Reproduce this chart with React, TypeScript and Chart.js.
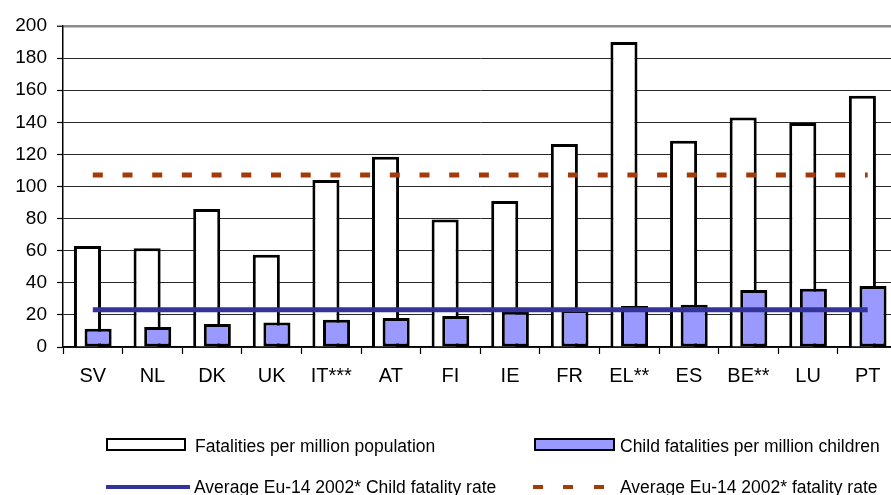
import React, { useEffect, useRef } from "react";
import { Chart, registerables } from "chart.js";

Chart.register(...registerables);

const CATEGORIES = ["SV", "NL", "DK", "UK", "IT***", "AT", "FI", "IE", "FR", "EL**", "ES", "BE**", "LU", "PT"];
const FATALITIES = [63, 61.5, 86, 57.5, 104, 118.5, 79.5, 91, 126.5, 190, 128.5, 143, 139.5, 156.5];
const CHILD_FATALITIES = [11.4, 12.5, 14.3, 15.2, 17, 18, 19.3, 22, 23, 25.5, 26.4, 35.5, 36.3, 38];
const AVG_CHILD_RATE = 23.2;
const AVG_FATALITY_RATE = 107.2;
const Y_TICKS = [0, 20, 40, 60, 80, 100, 120, 140, 160, 180, 200];

const LABEL_FATALITIES = "Fatalities per million population";
const LABEL_CHILD = "Child fatalities per million children";
const LABEL_AVG_CHILD = "Average Eu-14 2002* Child fatality rate";
const LABEL_AVG_ALL = "Average Eu-14 2002* fatality rate";

const FONT = '"Liberation Sans", Arial, Helvetica, sans-serif';
const BLUE = "#333399";
const RED = "#A33A0A";
const LILAC = "#9999FF";

// draw the child bars on top of the population bars
const reorderPlugin = {
  id: "reorderBars",
  beforeDatasetDraw(chart: any, args: any) {
    if (args.index === 1) return false;
  },
  afterDatasetDraw(chart: any, args: any) {
    if (args.index === 0) {
      const meta = chart.getDatasetMeta(1);
      meta.controller.draw();
    }
  },
};

export default function App() {
  const ref = useRef<HTMLCanvasElement>(null);

  useEffect(() => {
    if (!ref.current) return;
    const chart = new Chart(ref.current, {
      type: "bar",
      data: {
        labels: CATEGORIES,
        datasets: [
          {
            label: LABEL_FATALITIES,
            data: FATALITIES,
            backgroundColor: "#ffffff",
            borderColor: "#000000",
            borderWidth: 3,
            borderSkipped: "start",
            categoryPercentage: 0.356,
            barPercentage: 2.55,
            order: 0,
          } as any,
          {
            label: LABEL_CHILD,
            data: CHILD_FATALITIES,
            backgroundColor: LILAC,
            borderColor: "#000000",
            borderWidth: 3,
            borderSkipped: false,
            categoryPercentage: 0.356,
            barPercentage: 2.55,
            order: 0,
          } as any,
          {
            type: "line",
            label: LABEL_AVG_CHILD,
            data: CATEGORIES.map(() => AVG_CHILD_RATE),
            borderColor: BLUE,
            backgroundColor: BLUE,
            borderWidth: 5,
            pointRadius: 0,
            borderCapStyle: "butt",
            order: -1,
          } as any,
          {
            type: "line",
            label: LABEL_AVG_ALL,
            data: CATEGORIES.map(() => AVG_FATALITY_RATE),
            borderColor: RED,
            backgroundColor: RED,
            borderWidth: 5,
            borderDash: [10, 19.7],
            pointRadius: 0,
            borderCapStyle: "butt",
            order: -1,
          } as any,
        ],
      },
      options: {
        animation: false,
        responsive: false,
        layout: { padding: { left: 0, right: 7.5, top: 26, bottom: 0 } },
        plugins: {
          legend: { display: false },
          tooltip: { enabled: false },
        },
        scales: {
          x: {
            offset: true,
            grid: {
              display: true,
              drawOnChartArea: false,
              drawTicks: true,
              tickLength: 7,
              tickColor: "#000",
              tickWidth: 1.2,
              offset: true,
            },
            border: { display: true, color: "#000", width: 1.5 },
            ticks: {
              color: "#000",
              font: { family: FONT, size: 20 },
              padding: 10,
              maxRotation: 0,
              autoSkip: false,
            },
            afterFit: (s: any) => {
              s.height = 148;
            },
          },
          y: {
            min: Y_TICKS[0],
            max: Y_TICKS[Y_TICKS.length - 1],
            afterBuildTicks: (s: any) => {
              s.ticks = Y_TICKS.map((v) => ({ value: v }));
            },
            grid: {
              color: (c: any) => (c.tick && c.tick.value === 200 ? "#8c8c8c" : "#2a2a2a"),
              lineWidth: (c: any) => (c.tick && c.tick.value === 200 ? 2.5 : 1),
              tickLength: 6,
              tickColor: "#000",
              tickWidth: 1.2,
            },
            border: { display: true, color: "#000", width: 1.5 },
            ticks: {
              color: "#000",
              font: { family: FONT, size: 19 },
              padding: 10,
            },
            afterFit: (s: any) => {
              s.width = 63;
            },
          },
        },
      },
      plugins: [reorderPlugin],
    } as any);
    return () => chart.destroy();
  }, []);

  const text = (left: number, top: number, label: string) => (
    <div
      style={{
        position: "absolute",
        left,
        top,
        fontSize: 17.5,
        lineHeight: "20px",
        whiteSpace: "nowrap",
        color: "#000",
      }}
    >
      {label}
    </div>
  );

  return (
    <div
      style={{
        position: "absolute",
        left: 0,
        top: 0,
        width: 891,
        height: 495,
        overflow: "hidden",
        background: "#fff",
        fontFamily: FONT,
      }}
    >
      <canvas ref={ref} width={905} height={495} style={{ position: "absolute", left: 0, top: 0, width: 905, height: 495 }} />
      {/* legend row 1 */}
      <div
        style={{
          position: "absolute",
          left: 106,
          top: 438,
          width: 80,
          height: 13,
          boxSizing: "border-box",
          border: "2.5px solid #000",
          background: "#fff",
        }}
      />
      {text(195, 436, LABEL_FATALITIES)}
      <div
        style={{
          position: "absolute",
          left: 534,
          top: 438,
          width: 81,
          height: 13,
          boxSizing: "border-box",
          border: "2.5px solid #000",
          background: LILAC,
        }}
      />
      {text(620, 436, LABEL_CHILD)}
      {/* legend row 2 */}
      <div style={{ position: "absolute", left: 106, top: 485, width: 84, height: 4, background: BLUE }} />
      {text(194, 477, LABEL_AVG_CHILD)}
      {[533, 563, 594].map((x) => (
        <div key={x} style={{ position: "absolute", left: x, top: 485, width: 10, height: 4, background: RED }} />
      ))}
      {text(620, 477, LABEL_AVG_ALL)}
    </div>
  );
}
